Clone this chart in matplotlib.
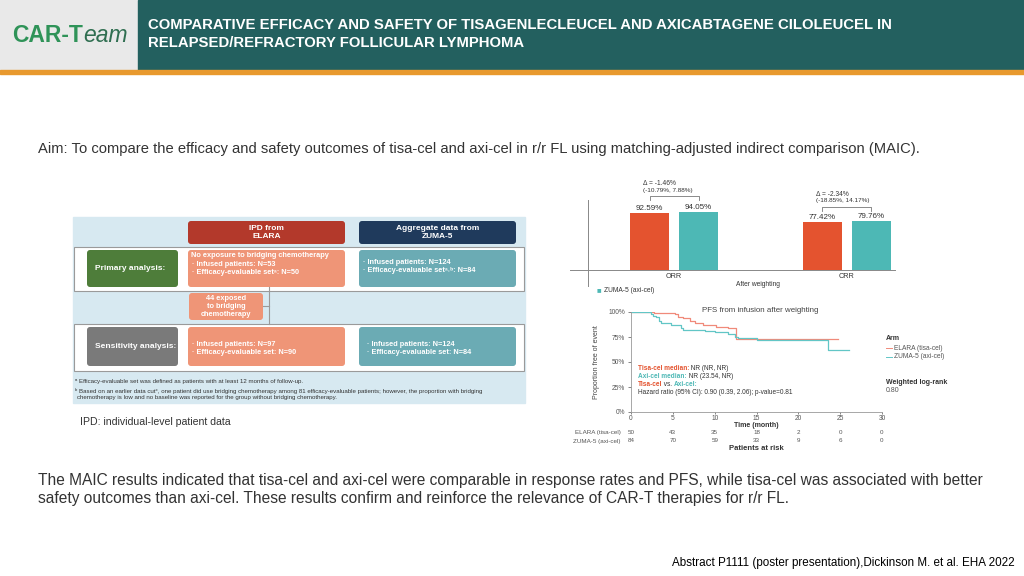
import numpy as np
import matplotlib
matplotlib.use("Agg")
import matplotlib.pyplot as plt
from matplotlib.patches import Rectangle, FancyBboxPatch

plt.rcParams['font.family'] = ['Liberation Sans', 'DejaVu Sans']

# ---- data ----
bar_groups = ["ORR", "CRR"]
tisa_rates = [92.59, 77.42]
axi_rates = [94.05, 79.76]
deltas = ["Δ = -1.46%", "Δ = -2.34%"]
delta_ci = ["(-10.79%, 7.88%)", "(-18.85%, 14.17%)"]

tisa_t = [0, 2.8, 5.2, 5.6, 6.2, 7.0, 7.6, 8.6, 10.2, 11.6, 12.6, 24.8]
tisa_s = [100, 99.3, 97.7, 95.3, 93.7, 91.0, 89.3, 87.0, 85.0, 83.7, 73.3, 73.3]
axi_t = [0, 2.4, 2.6, 3.0, 3.4, 3.6, 4.8, 6.0, 6.2, 8.8, 10.0, 11.6, 12.4, 12.8, 15.1, 23.5, 26.0]
axi_s = [100, 98.0, 96.5, 94.7, 91.0, 88.7, 87.0, 83.7, 82.0, 81.0, 79.7, 77.7, 75.3, 73.7, 71.7, 62.0, 62.0]

risk_times = [0, 5, 10, 15, 20, 25, 30]
risk_elara = [50, 43, 35, 18, 2, 0, 0]
risk_zuma = [84, 70, 59, 33, 9, 6, 0]

C_TISA = '#E4532F'
C_AXI = '#4DB8B5'
C_TISA_L = '#F08A7A'
C_AXI_L = '#62C6C6'
TXT = '#333333'

W, H = 1024, 576
fig = plt.figure(figsize=(W / 100, H / 100), dpi=100)
fig.patch.set_facecolor('white')


def px_ax(x0, y0, x1, y1):
    return fig.add_axes([x0 / W, 1 - y1 / H, (x1 - x0) / W, (y1 - y0) / H])


bg = fig.add_axes([0, 0, 1, 1])
bg.set_xlim(0, W)
bg.set_ylim(H, 0)
bg.axis('off')
rend = fig.canvas.get_renderer()


def seq_text(ax, x, y, parts, **kw):
    for p in parts:
        s, c, w = p[:3]
        st = p[3] if len(p) > 3 else 'normal'
        t = ax.text(x, y, s, color=c, fontweight=w, style=st, **kw)
        bb = t.get_window_extent(rend)
        x = ax.transData.inverted().transform((bb.x1, bb.y0))[0]
    return x


# header
bg.add_patch(Rectangle((0, 0), 138, 70, color='#E9E9E9'))
bg.add_patch(Rectangle((138, 0), W - 138, 70, color='#23605F'))
bg.add_patch(Rectangle((0, 70), W, 4, color='#E8992E'))
seq_text(bg, 12, 35, [("CAR-T", '#2F9358', 'bold'), ("eam", '#2F6E50', 'normal', 'italic')],
         fontsize=16.5, va='center')
bg.text(148, 25, "COMPARATIVE EFFICACY AND SAFETY OF TISAGENLECLEUCEL AND AXICABTAGENE CILOLEUCEL IN",
        color='white', fontsize=10.7, fontweight='bold', va='center')
bg.text(148, 43, "RELAPSED/REFRACTORY FOLLICULAR LYMPHOMA",
        color='white', fontsize=10.7, fontweight='bold', va='center')

bg.text(38, 149, "Aim: To compare the efficacy and safety outcomes of tisa-cel and axi-cel in r/r FL using "
        "matching-adjusted indirect comparison (MAIC).", color=TXT, fontsize=10.6, va='center')
bg.text(38, 481, "The MAIC results indicated that tisa-cel and axi-cel were comparable in response rates and PFS, "
        "while tisa-cel was associated with better", color=TXT, fontsize=11.2, va='center')
bg.text(38, 499, "safety outcomes than axi-cel. These results confirm and reinforce the relevance of CAR-T "
        "therapies for r/r FL.", color=TXT, fontsize=11.2, va='center')
bg.text(1015, 563, "Abstract P1111 (poster presentation),Dickinson M. et al. EHA 2022",
        color='black', fontsize=8.4, ha='right', va='center')

# ---- flowchart ----
def box(x0, y0, x1, y1, fc, ec='none', lw=0, r=3):
    bg.add_patch(FancyBboxPatch((x0, y0), x1 - x0, y1 - y0,
                                boxstyle=f"round,pad=0,rounding_size={r}",
                                fc=fc, ec=ec, lw=lw))

bg.add_patch(Rectangle((73, 217), 452, 186, color='#D7E9F1'))
box(188, 221, 345, 244, '#B3392B')
box(359, 221, 516, 244, '#1F3A5C')
bg.text(266.5, 232.5, "IPD from\nELARA", color='white', fontsize=6.0, fontweight='bold',
        ha='center', va='center', linespacing=1.3)
bg.text(437.5, 232.5, "Aggregate data from\nZUMA-5", color='white', fontsize=6.0, fontweight='bold',
        ha='center', va='center', linespacing=1.3)
bg.add_patch(Rectangle((74, 247), 450, 44, fc='white', ec='#9A9A9A', lw=0.8))
bg.add_patch(Rectangle((74, 324), 450, 47, fc='white', ec='#9A9A9A', lw=0.8))
bg.plot([269, 269], [287, 324], color='#9A9A9A', lw=0.8)
bg.plot([263, 269], [306, 306], color='#9A9A9A', lw=0.8)

box(87, 250, 178, 287, '#4E7D3A')
box(87, 327, 178, 366, '#7A7A7A')
box(188, 250, 345, 287, '#EF9577')
box(359, 250, 516, 287, '#6BABB4')
box(189, 293, 263, 320, '#EF9577')
box(188, 327, 345, 366, '#EF9577')
box(359, 327, 516, 366, '#6BABB4')

fk = dict(color='white', fontweight='bold', va='center')
bg.text(95, 268.5, "Primary analysis:", fontsize=6.0, **fk)
bg.text(95, 346.5, "Sensitivity analysis:", fontsize=6.0, **fk)
bg.text(191, 255.5, "No exposure to bridging chemotherapy", fontsize=5.3, **fk)
bg.text(192, 264, "· Infused patients: N=53", fontsize=5.3, **fk)
bg.text(192, 272.5, "· Efficacy-evaluable setᵃ: N=50", fontsize=5.3, **fk)
bg.text(363, 262.5, "· Infused patients: N=124", fontsize=5.3, **fk)
bg.text(363, 271, "· Efficacy-evaluable setᵃ˒ᵇ: N=84", fontsize=5.3, **fk)
bg.text(226, 306.5, "44 exposed\nto bridging\nchemotherapy", fontsize=5.3, ha='center',
        linespacing=1.1, **fk)
bg.text(192, 344.5, "· Infused patients: N=97", fontsize=5.3, **fk)
bg.text(192, 353, "· Efficacy-evaluable set: N=90", fontsize=5.3, **fk)
bg.text(367, 344.5, "· Infused patients: N=124", fontsize=5.3, **fk)
bg.text(367, 353, "· Efficacy-evaluable set: N=84", fontsize=5.3, **fk)

fn = dict(color=TXT, fontsize=4.4, va='center')
bg.text(75, 382, "ᵃ Efficacy-evaluable set was defined as patients with at least 12 months of follow-up.", **fn)
bg.text(75, 391, "ᵇ Based on an earlier data cutᶜ, one patient did use bridging chemotherapy among 81 "
        "efficacy-evaluable patients; however, the proportion with bridging", **fn)
bg.text(77, 398, "chemotherapy is low and no baseline was reported for the group without bridging chemotherapy.", **fn)
bg.text(80, 422, "IPD: individual-level patient data", color=TXT, fontsize=7.6, va='center')

# ---- bar chart ----
ax = px_ax(570, 175, 895, 286)
ax.set_xlim(-0.603, 1.281)
ax.set_ylim(-26, 154.5)
x = np.arange(len(bar_groups))
off, bw = 0.142, 0.226
ax.bar(x - off, tisa_rates, bw, color=C_TISA)
ax.bar(x + off, axi_rates, bw, color=C_AXI)
for i in range(len(x)):
    ax.text(x[i] - off, tisa_rates[i] + 2, f"{tisa_rates[i]:.2f}%", ha='center', va='bottom',
            fontsize=5.8, color=TXT)
    ax.text(x[i] + off, axi_rates[i] + 2, f"{axi_rates[i]:.2f}%", ha='center', va='bottom',
            fontsize=5.8, color=TXT)
    top = max(tisa_rates[i], axi_rates[i])
    yb = top + (26 if i == 0 else 22.6)
    ax.plot([x[i] - off, x[i] - off, x[i] + off, x[i] + off], [yb - 6.5, yb, yb, yb - 6.5],
            color='#777777', lw=0.6)
    ax.text(x[i] - off - 0.035, yb + 10, delta_ci[i], fontsize=4.6, color=TXT, va='center')
    ax.text(x[i] - off - 0.035, yb + 21, deltas[i], fontsize=4.8, color=TXT, va='center')
for s in ['top', 'right']:
    ax.spines[s].set_visible(False)
ax.spines['bottom'].set_position(('data', 0))
ax.spines['left'].set_position(('data', -0.5))
ax.spines['left'].set_bounds(-26, 114)
for s in ['bottom', 'left']:
    ax.spines[s].set_color('#888888')
    ax.spines[s].set_linewidth(0.7)
ax.set_yticks([])
ax.set_xticks(x)
ax.set_xticklabels(bar_groups, fontsize=5.2, color=TXT)
ax.tick_params(axis='x', length=0, pad=2)
ax.patch.set_alpha(0)
ax.text(0.487, -22.8, "After weighting", fontsize=4.8, color=TXT, ha='center', va='center')
bg.text(597, 291, "■", color=C_AXI, fontsize=5.5, va='center')
bg.text(604, 291, "ZUMA-5 (axi-cel)", color=TXT, fontsize=4.8, va='center')

# ---- KM plot ----
km = px_ax(631, 312, 882, 412)
km.step(tisa_t, tisa_s, where='post', color=C_TISA_L, lw=0.9)
km.step(axi_t, axi_s, where='post', color=C_AXI_L, lw=0.9)
km.set_xlim(0, 30)
km.set_ylim(0, 100)
km.set_xticks(risk_times)
km.set_yticks([0, 25, 50, 75, 100])
km.set_yticklabels(["0%", "25%", "50%", "75%", "100%"])
km.tick_params(labelsize=4.8, colors='#555555', length=2, width=0.5, pad=2)
km.tick_params(axis='x', length=1.5, pad=1)
for s in ['top', 'right']:
    km.spines[s].set_visible(False)
for s in ['bottom', 'left']:
    km.spines[s].set_color('#999999')
    km.spines[s].set_linewidth(0.6)
km.patch.set_alpha(0)
km.set_ylabel("Proportion free of event", fontsize=5.0, color='#444444', labelpad=6)
km.text(15, -13.5, "Time (month)", fontsize=5.0, color='#333333', fontweight='bold',
        ha='center', va='center', clip_on=False)
km.text(15.5, 101, "PFS from infusion after weighting", fontsize=5.7, color='#444444',
        ha='center', va='center')
seq_text(km, 0.84, 44, [("Tisa-cel median:", C_TISA, 'bold'), (" NR (NR, NR)", TXT, 'normal')],
         fontsize=4.7, va='center')
seq_text(km, 0.84, 36, [("Axi-cel median:", C_AXI, 'bold'), (" NR (23.54, NR)", TXT, 'normal')],
         fontsize=4.7, va='center')
seq_text(km, 0.84, 28, [("Tisa-cel", C_TISA, 'bold'), (" vs. ", TXT, 'normal'), ("Axi-cel:", C_AXI, 'bold')],
         fontsize=4.7, va='center')
km.text(0.84, 19, "Hazard ratio (95% CI): 0.90 (0.39, 2.06); p-value=0.81", fontsize=4.7,
        color=TXT, va='center')

for t, a, b in zip(risk_times, risk_elara, risk_zuma):
    km.text(t, -20.5, str(a), fontsize=4.5, color='#555555', ha='center', va='center', clip_on=False)
    km.text(t, -29, str(b), fontsize=4.5, color='#555555', ha='center', va='center', clip_on=False)
km.text(-1.2, -20.5, "ELARA (tisa-cel)", fontsize=4.5, color='#555555', ha='right', va='center', clip_on=False)
km.text(-1.2, -29, "ZUMA-5 (axi-cel)", fontsize=4.5, color='#555555', ha='right', va='center', clip_on=False)
km.text(15, -36.5, "Patients at risk", fontsize=5.5, color='#333333', fontweight='bold',
        ha='center', va='center', clip_on=False)

bg.text(886, 339, "Arm", fontsize=5.0, color=TXT, fontweight='bold', va='center')
bg.plot([886, 892], [348, 348], color=C_TISA_L, lw=0.7)
bg.plot([886, 892], [357, 357], color=C_AXI_L, lw=0.7)
bg.text(894, 348, "ELARA (tisa-cel)", fontsize=4.8, color='#555555', va='center')
bg.text(894, 357, "ZUMA-5 (axi-cel)", fontsize=4.8, color='#555555', va='center')
bg.text(886, 382, "Weighted log-rank", fontsize=5.0, color=TXT, fontweight='bold', va='center')
bg.text(886, 391, "0.80", fontsize=5.0, color='#555555', va='center')

fig.savefig("out.png", dpi=100)
